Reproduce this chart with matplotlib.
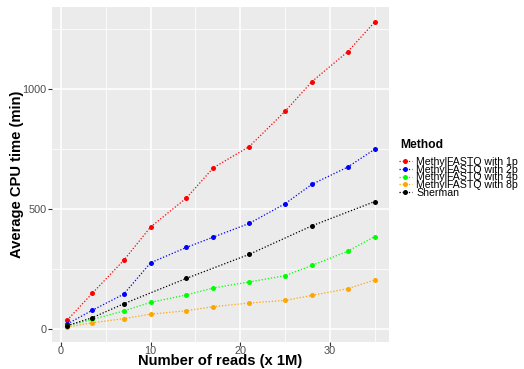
import matplotlib
matplotlib.use("Agg")
import matplotlib.pyplot as plt
from matplotlib.ticker import MultipleLocator

plt.rcParams['font.family'] = ['Liberation Sans', 'DejaVu Sans']

reads = [0.7, 3.5, 7, 10, 14, 17, 21, 25, 28, 32, 35]
mf_1p = [37, 149, 286, 425, 546, 672, 760, 907, 1031, 1156, 1279]
mf_2p = [21, 78, 145, 276, 340, 383, 440, 522, 603, 675, 749]
mf_4p = [13, 40, 75, 111, 142, 171, 196, 222, 265, 324, 385]
mf_8p = [8, 26, 43, 62, 76, 93, 108, 119, 140, 168, 204]
sherman_reads = [0.7, 3.5, 7, 14, 21, 28, 35]
sherman = [14, 47, 105, 211, 311, 430, 531]

labels = ["MethylFASTQ with 1p", "MethylFASTQ with 2p", "MethylFASTQ with 4p",
          "MethylFASTQ with 8p", "Sherman"]
colors = ["#FF0000", "#0000FF", "#00FF00", "#FFA500", "#000000"]
series = [(reads, mf_1p), (reads, mf_2p), (reads, mf_4p), (reads, mf_8p),
          (sherman_reads, sherman)]

W, H = 524, 369
fig = plt.figure(figsize=(W/100, H/100), dpi=100)
ax = fig.add_axes([52/W, 1-341.7/H, (389-52)/W, (341.7-7)/H])
ax.set_facecolor("#EBEBEB")
for s in ax.spines.values():
    s.set_visible(False)

handles = []
for (xs, ys), lab, col in zip(series, labels, colors):
    h, = ax.plot(xs, ys, linestyle=(0, (1, 1.5)), linewidth=0.9, color=col,
                 marker='o', markersize=3.6, markeredgewidth=0, label=lab)
    handles.append(h)

ax.set_xlim(-1.0, 36.6)
ax.set_ylim(-53, 1342)
ax.xaxis.set_major_locator(MultipleLocator(10))
ax.xaxis.set_minor_locator(MultipleLocator(5))
ax.yaxis.set_major_locator(MultipleLocator(500))
ax.yaxis.set_minor_locator(MultipleLocator(250))
ax.grid(which='major', color='white', linewidth=1.1)
ax.grid(which='minor', color='white', linewidth=0.55)
ax.set_axisbelow(True)
ax.tick_params(which='major', length=2.7, width=0.8, color='#333333',
               labelcolor='#4D4D4D', labelsize=7.8)
ax.tick_params(axis='x', which='major', pad=0.3)
ax.tick_params(axis='y', which='major', pad=1.2)
ax.tick_params(which='minor', length=0)

ax.set_xlabel("Number of reads (x 1M)", fontsize=10.6, fontweight='bold')
ax.xaxis.set_label_coords(0.5, -(353.5 - 341.7) / (341.7 - 7))
ax.set_ylabel("Average CPU time (min)", fontsize=10.6, fontweight='bold')
ax.yaxis.set_label_coords((24 - 52) / (389 - 52), 0.5)

fig.text(400.5/W, 1-145/H, "Method", fontsize=8.7, fontweight='bold',
         ha='left', va='center')

leg = ax.legend(handles=handles, loc='upper left', bbox_to_anchor=(398.5/W, 1-157/H),
                bbox_transform=fig.transFigure, frameon=False, fontsize=7.6,
                handlelength=1.3, handletextpad=0.4,
                labelspacing=-0.22, borderpad=0, borderaxespad=0)

fig.savefig("out.png", dpi=100)
